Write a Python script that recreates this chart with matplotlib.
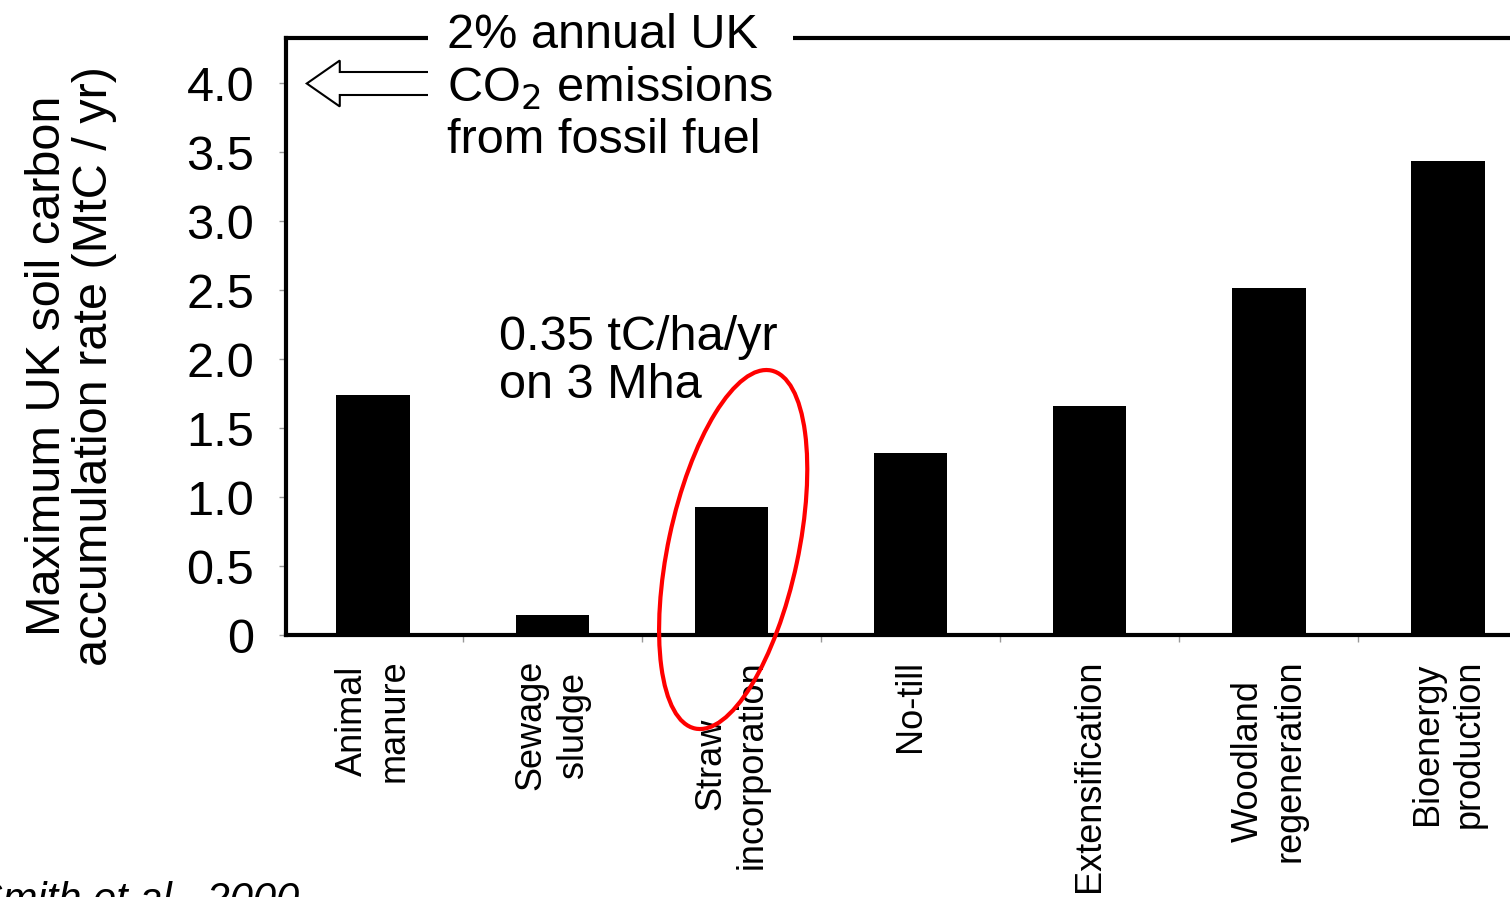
import matplotlib
matplotlib.use("Agg")
import matplotlib.pyplot as plt
import matplotlib.patches as mpatches
from matplotlib.transforms import IdentityTransform

plt.rcParams['font.family'] = ['Liberation Sans', 'DejaVu Sans']

# data
categories = ["Animal\nmanure", "Sewage\nsludge", "Straw\nincorporation", "No-till",
              "Extensification", "Woodland\nregeneration", "Bioenergy\nproduction"]
rates = [1.74, 0.145, 0.93, 1.32, 1.66, 2.52, 3.44]
yticks = [0, 0.5, 1.0, 1.5, 2.0, 2.5, 3.0, 3.5, 4.0]
ytick_labels = ["0", "0.5", "1.0", "1.5", "2.0", "2.5", "3.0", "3.5", "4.0"]
uk_emission_line = 4.0  # 2% of annual UK fossil CO2
straw_index = 2

W, H = 1510, 897
fig = plt.figure(figsize=(W / 100, H / 100), dpi=100)
ax = fig.add_axes([286 / W, (H - 635) / H, 1 - 286 / W, (635 - 38) / H])

x = list(range(len(categories)))
ax.bar(x, rates, width=0.41, color='black', zorder=3)

ax.set_xlim(-0.486, 6.346)
ax.set_ylim(0, 4.33)

ax.set_yticks(yticks)
ax.set_yticklabels(ytick_labels, fontsize=35)
ax.tick_params(axis='y', length=5, width=1, color='0.6', pad=18)

ax.set_xticks(x)
ax.set_xticklabels([])
ax.set_xticks([i + 0.5 for i in x[:-1]], minor=True)
ax.tick_params(axis='x', which='major', length=0)
ax.tick_params(axis='x', which='minor', length=5, width=1, color='0.6')

for s in ['left', 'bottom', 'top']:
    ax.spines[s].set_linewidth(3)
ax.spines['right'].set_visible(False)

# rotated category labels under the bars
for xi, lab in zip(x, categories):
    ax.text(xi, -0.18, lab, rotation=90, ha='center', va='top',
            multialignment='center', fontsize=26, linespacing=1.25,
            transform=ax.transData, clip_on=False)

# y label
fig.text(71 / W, 1 - 366 / H, "Maximum UK soil carbon\naccumulation rate (MtC / yr)",
         rotation=90, ha='center', va='center', multialignment='center',
         fontsize=35, linespacing=1.08)

# annotation box at top
ax.text(0.415, 4.51, "2% annual UK\nCO$_2$ emissions\nfrom fossil fuel",
        ha='left', va='top', fontsize=35, linespacing=1.18, zorder=10, clip_on=False,
        bbox=dict(boxstyle='square,pad=0.4', facecolor='white', edgecolor='none'))

# hollow arrow pointing at the 4.0 level (tail hidden under the box)
fig.canvas.draw()
tip = ax.transData.transform((-0.37, uk_emission_line))
arrow = mpatches.FancyArrow(tip[0] + 140, tip[1], -140, 0, width=23, head_width=46,
                            head_length=33, length_includes_head=True,
                            facecolor='white', edgecolor='black', linewidth=1.5,
                            transform=IdentityTransform(), zorder=5, clip_on=False)
ax.add_artist(arrow)

# red ellipse around the straw bar
cen = ax.transData.transform((straw_index + 0.01, 0.62))
ell = mpatches.Ellipse(cen, 130, 366, angle=-12, fill=False, edgecolor='red',
                       linewidth=3, transform=IdentityTransform(), zorder=6)
fig.add_artist(ell)

ax.text(0.704, 2.32, "0.35 tC/ha/yr\non 3 Mha", ha='left', va='top',
        fontsize=35, linespacing=1.08, zorder=7)

fig.text(-25 / W, 17 / H, "Smith et al., 2000", ha='left', va='top',
         fontsize=30, style='italic')

fig.savefig("out.png", dpi=100)
